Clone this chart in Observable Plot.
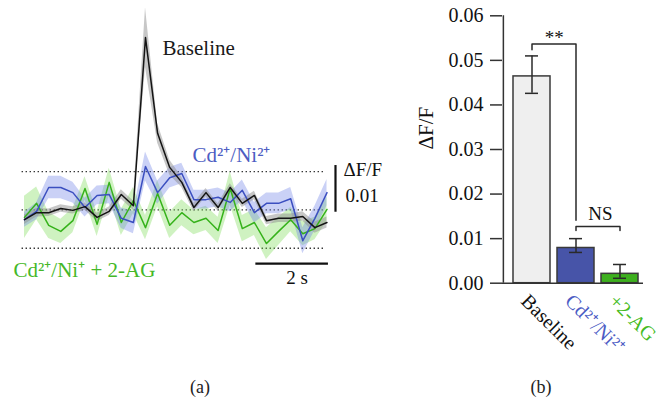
<!DOCTYPE html>
<html><head><meta charset="utf-8">
<script src="https://cdn.jsdelivr.net/npm/d3@7"></script>
<script src="https://cdn.jsdelivr.net/npm/@observablehq/plot@0.6"></script>
<style>
body{margin:0;background:#fff;}
#wrap{position:relative;width:660px;height:402px;overflow:hidden;font-family:"Liberation Serif",serif;}
#wrap svg, #wrap svg text{font-family:"Liberation Serif",serif !important;}
#pa{position:absolute;left:0;top:0;}
#pb{position:absolute;left:380px;top:0;}
.lab{position:absolute;top:377px;font-size:18px;color:#222;width:40px;text-align:center;}
</style></head><body>
<div id="wrap"><div id="pa"></div><div id="pb"></div>
<div class="lab" style="left:180px">(a)</div><div class="lab" style="left:521px">(b)</div></div>
<script>
// ---- panel (a): mean ΔF/F traces (3 frames per second) ----
const frameRate = 3;
const baselineMean = [-0.0021,-0.0006,-0.0006,0.0003,-0.0001,0.0007,-0.0016,-0.0003,0.0033,0.0009,0.0369,0.0164,0.0091,0.0059,0.0005,0.0037,0.0005,0.0048,0.0014,0.0031,-0.0023,-0.0018,-0.0018,-0.0014,-0.0038,-0.0027];
const baselineSem  = [0.0010,0.0009,0.0008,0.0008,0.0008,0.0008,0.0009,0.0009,0.0010,0.0010,0.0064,0.0021,0.0016,0.0011,0.0009,0.0009,0.0008,0.0008,0.0009,0.0009,0.0009,0.0009,0.0009,0.0010,0.0012,0.0012];
const cdNiMean = [-0.0021,-0.0003,0.0048,0.0048,0.0037,0.0005,0.0031,0.0033,-0.0018,-0.0027,0.0093,0.0037,0.0069,0.0078,0.0022,0.0022,0.0027,0.0016,0.0042,-0.0006,0.0014,0.0014,0.0024,-0.0066,-0.0018,0.0037];
const cdNiSem  = [0.0016,0.0018,0.0024,0.0024,0.0022,0.0020,0.0020,0.0020,0.0022,0.0024,0.0031,0.0025,0.0022,0.0022,0.0020,0.0020,0.0020,0.0020,0.0022,0.0022,0.0022,0.0022,0.0024,0.0028,0.0026,0.0028];
const agMean = [-0.0016,0.0014,-0.0033,-0.0046,-0.0023,0.0046,-0.0031,0.0059,-0.0027,0.0020,-0.0038,0.0035,-0.0033,-0.0006,-0.0027,-0.0018,-0.0044,0.0046,-0.0040,-0.0027,-0.0072,-0.0046,-0.0021,-0.0051,-0.0040,0.0001];
const agSem  = [0.0045,0.0035,0.0028,0.0026,0.0026,0.0025,0.0026,0.0030,0.0028,0.0028,0.0026,0.0028,0.0028,0.0028,0.0026,0.0026,0.0028,0.0036,0.0028,0.0028,0.0034,0.0030,0.0026,0.0026,0.0024,0.0026];
const guideLevels = [-0.0082, 0, 0.0082];
const scaleBarSeconds = 2;
const scaleBarDff = 0.01;

// ---- panel (b): mean peak ΔF/F ----
const barCategories = ["Baseline", "Cd²⁺/Ni²⁺", "+2-AG"];
const barMeans   = [0.0464, 0.0079, 0.0021];
const barErrLow  = [0.0426, 0.0069, 0.0011];
const barErrHigh = [0.0510, 0.0100, 0.0042];
const yTicks = [0, 0.01, 0.02, 0.03, 0.04, 0.05, 0.06];
const brackets = [
  {from: "Baseline", to: "Cd²⁺/Ni²⁺", top: 0.0537, legFrom: 0.0524, legTo: 0.0141, label: "**"},
  {from: "Cd²⁺/Ni²⁺", to: "+2-AG", top: 0.0127, legFrom: 0.0118, legTo: 0.0118, label: "NS"}
];

const traces = [
  {key: "Cd²⁺/Ni⁺ + 2-AG", mean: agMean, sem: agSem, line: "#36b21b", band: "#7adc52", op: 0.36, text: "#45b828"},
  {key: "Cd²⁺/Ni²⁺", mean: cdNiMean, sem: cdNiSem, line: "#3b4fc0", band: "#6d7fe6", op: 0.36, text: "#4c5dc2"},
  {key: "Baseline", mean: baselineMean, sem: baselineSem, line: "#141414", band: "#8f8f8f", op: 0.5, text: "#1a1a1a"}
];
const rowsOf = tr => tr.mean.map((v, i) => ({t: i / frameRate, v, lo: v - tr.sem[i], hi: v + tr.sem[i]}));
const tEnd = (baselineMean.length - 1) / frameRate;
const rowsAG = rowsOf(traces[0]), rowsCd = rowsOf(traces[1]), rowsBase = rowsOf(traces[2]);
const traceRows = [rowsAG, rowsCd, rowsBase];

const plotA = Plot.plot({
  width: 400, height: 300,
  marginLeft: 24, marginRight: 73.5, marginTop: 22.6, marginBottom: 43.9,
  x: {domain: [0, tEnd], axis: null},
  y: {domain: [-0.01, 0.04], axis: null},
  style: {background: "transparent", overflow: "visible"},
  marks: [
    Plot.ruleY(guideLevels, {x1: -0.2 / frameRate, x2: 24.9 / frameRate, stroke: "#333", strokeWidth: 1.4, strokeDasharray: "1.4,2.6"}),
    ...traces.map((tr, k) => Plot.areaY(traceRows[k], {x: "t", y1: "lo", y2: "hi", fill: tr.band, fillOpacity: tr.op})),
    ...traces.map((tr, k) => Plot.lineY(traceRows[k], {x: "t", y: "v", stroke: tr.line, strokeWidth: 1.5})),
    Plot.text([rowsBase[d3.maxIndex(baselineMean)]], {x: "t", y: "v", text: () => "Baseline", dx: 17, dy: 11, textAnchor: "start", fontSize: 21, fill: traces[2].text}),
    Plot.text([rowsCd[d3.maxIndex(cdNiMean)]], {x: "t", y: "v", text: () => "Cd²⁺/Ni²⁺", dx: 47, dy: -11, textAnchor: "start", fontSize: 21, fill: traces[1].text}),
    Plot.text([rowsAG[0]], {x: "t", y: "v", text: () => "Cd²⁺/Ni⁺ + 2-AG", dx: -11, dy: 53, textAnchor: "start", fontSize: 21, fill: traces[0].text}),
    Plot.ruleY([-0.0115], {x1: tEnd + 0.04 - scaleBarSeconds, x2: tEnd + 0.04, stroke: "#111", strokeWidth: 2.2}),
    Plot.text([`${scaleBarSeconds} s`], {x: tEnd + 0.04 - scaleBarSeconds / 2, y: -0.0115, dx: 5, dy: 14, fontSize: 19, fill: "#111"}),
    Plot.ruleX([tEnd + 0.234], {y1: -0.0005, y2: -0.0005 + scaleBarDff, stroke: "#111", strokeWidth: 2.2}),
    Plot.text(["ΔF/F"], {x: tEnd + 0.234, y: -0.0005 + scaleBarDff, dx: 8, dy: 4, textAnchor: "start", fontSize: 19, fill: "#111"}),
    Plot.text([String(scaleBarDff)], {x: tEnd + 0.234, y: -0.0005 + scaleBarDff, dx: 10, dy: 30, textAnchor: "start", fontSize: 19, fill: "#111"})
  ]
});
document.getElementById("pa").appendChild(plotA);

// ---- panel (b) ----
const barStyle = {"Baseline": "#efefef", "Cd²⁺/Ni²⁺": "#4754a8", "+2-AG": "#3db01e"};
const labelColor = {"Baseline": "#111", "Cd²⁺/Ni²⁺": "#4c5cc4", "+2-AG": "#45bb22"};
const bars = barCategories.map((c, i) => ({cat: c, mean: barMeans[i], lo: barErrLow[i], hi: barErrHigh[i]}));
const bRange = [122, 263];
const xb = d3.scaleBand(barCategories, bRange).paddingInner(0.155).paddingOuter(0.153).align(0.71);
const axisDx = bRange[0] - (xb(barCategories[0]) + xb.bandwidth() / 2);
const halfStep = xb.step() / 2;
const bracketPts = brackets.flatMap((b, k) => [
  {k, x: b.from, y: b.legFrom}, {k, x: b.from, y: b.top}, {k, x: b.to, y: b.top}, {k, x: b.to, y: b.legTo}
]);

const plotB = Plot.plot({
  width: 280, height: 360,
  marginLeft: bRange[0], marginRight: 280 - bRange[1], marginTop: 15.3, marginBottom: 77.3,
  x: {domain: barCategories, paddingInner: 0.155, paddingOuter: 0.153, align: 0.71, axis: null},
  y: {domain: [0, 0.06], axis: null},
  style: {background: "transparent", overflow: "visible"},
  marks: [
    ...bars.map(b => Plot.barY([b], {x: "cat", y: "mean", fill: barStyle[b.cat], stroke: "#3a3a3a", strokeWidth: 1.5})),
    Plot.ruleX(bars, {x: "cat", y1: "lo", y2: "hi", stroke: "#2a2a2a", strokeWidth: 1.5}),
    Plot.tickY(bars, {x: "cat", y: "lo", insetLeft: 12, insetRight: 12, stroke: "#2a2a2a", strokeWidth: 1.5}),
    Plot.tickY(bars, {x: "cat", y: "hi", insetLeft: 12, insetRight: 12, stroke: "#2a2a2a", strokeWidth: 1.5}),
    Plot.ruleY([0], {stroke: "#333", strokeWidth: 1.5}),
    Plot.ruleX([barCategories[0]], {y1: 0, y2: 0.06, dx: axisDx, stroke: "#333", strokeWidth: 1.5}),
    Plot.axisY({ticks: yTicks, tickFormat: d3.format(".2f"), tickSize: 12, tickPadding: 7, fontSize: 20, stroke: "#333", strokeWidth: 1.5, fill: "#111", label: null}),
    Plot.text(["ΔF/F"], {frameAnchor: "left", rotate: -90, dx: -76, fontSize: 21, fill: "#111"}),
    Plot.line(bracketPts, {x: "x", y: "y", z: "k", stroke: "#2a2a2a", strokeWidth: 1.5}),
    Plot.text([brackets[0]], {x: "from", y: "top", text: "label", dx: halfStep, dy: 0, lineAnchor: "bottom", fontSize: 19, fill: "#111"}),
    Plot.text([brackets[1]], {x: "from", y: "top", text: "label", dx: halfStep + 2, dy: -7, lineAnchor: "bottom", fontSize: 19, fill: "#111"}),
    ...bars.map(b => Plot.text([b], {x: "cat", text: "cat", frameAnchor: "bottom", dx: -12, dy: 19, rotate: 45, textAnchor: "start", lineAnchor: "bottom", fontSize: 20, fill: labelColor[b.cat]}))
  ]
});
document.getElementById("pb").appendChild(plotB);
</script>
</body></html>
